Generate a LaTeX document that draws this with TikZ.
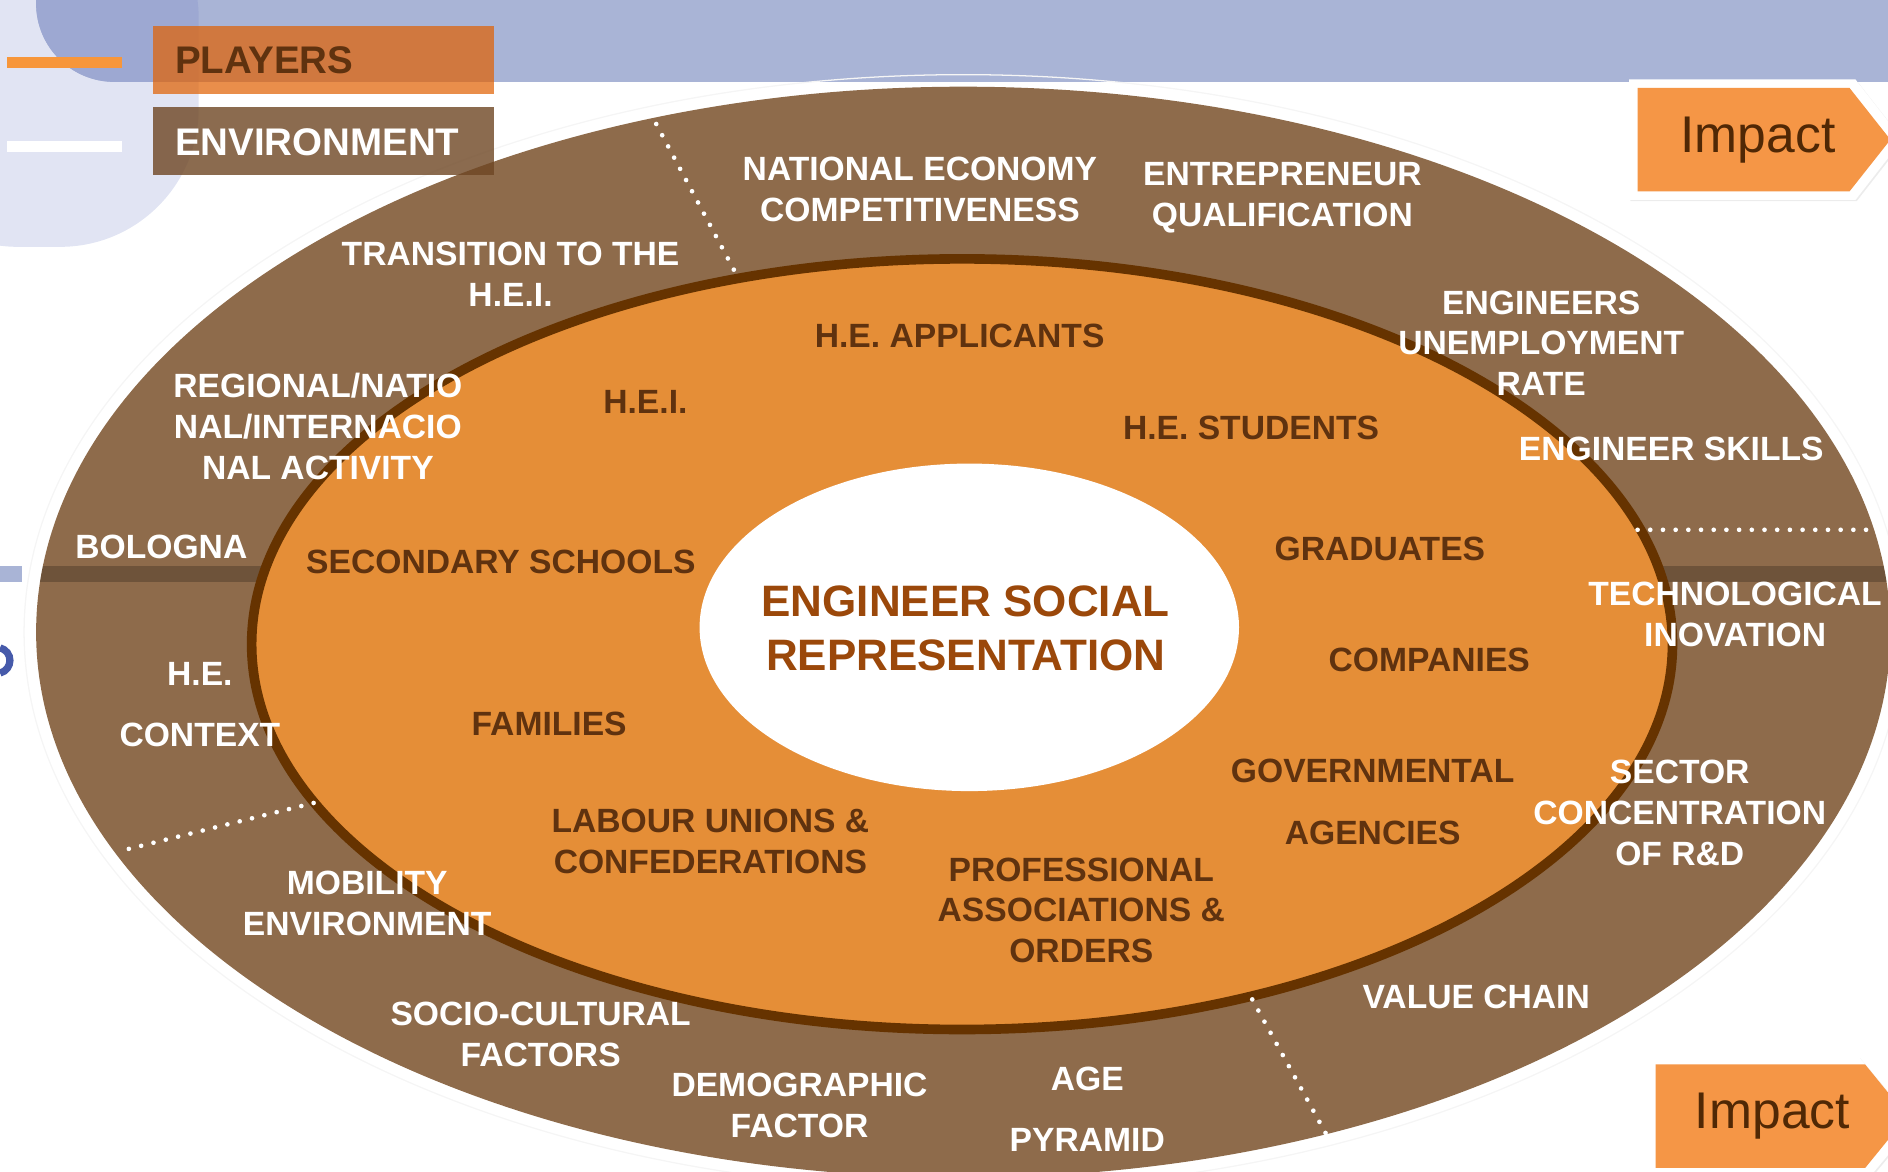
\documentclass[tikz,border=0pt]{standalone}
\usepackage{fontspec}
\setmainfont{Liberation Sans}
\usetikzlibrary{shadows}
\definecolor{bandblue}{RGB}{169,180,214}
\definecolor{paleblue}{RGB}{225,228,243}
\definecolor{deepblue}{RGB}{157,168,210}
\definecolor{markblue}{RGB}{70,90,170}
\definecolor{envbrown}{RGB}{142,107,75}
\definecolor{plorange}{RGB}{229,142,55}
\definecolor{rimbrown}{RGB}{102,51,0}
\definecolor{plbrown}{RGB}{95,50,15}
\definecolor{ttlbrown}{RGB}{155,72,10}
\definecolor{tagorange}{RGB}{245,150,70}
\definecolor{tagtext}{RGB}{80,40,5}
\definecolor{legorange}{RGB}{247,150,58}
\definecolor{keyorange}{RGB}{224,98,5}
\definecolor{keybrown}{RGB}{110,70,35}
\newcommand{\lblfont}{\fontsize{15.9}{19.3}\selectfont\bfseries}
\newcommand{\ttlfont}{\fontsize{20.8}{25.5}\selectfont\bfseries}
\newcommand{\legfont}{\fontsize{18.2}{22}\selectfont\bfseries}
\newcommand{\impfont}{\fontsize{24.4}{28}\selectfont}
\tikzset{
    envlbl/.style={text=white, font=\lblfont, align=center, inner sep=0pt},
    plylbl/.style={text=plbrown, font=\lblfont, align=center, inner sep=0pt},
    sepline/.style={white, line width=2.2pt, dash pattern=on 0pt off 6pt, line cap=round},
    tagrim/.style={fill=white, drop shadow={opacity=0.15, shadow xshift=0.6pt, shadow yshift=-0.6pt}},
    tagbody/.style={fill=tagorange},
    tagword/.style={text=tagtext, font=\impfont, inner sep=0pt}
}
\begin{document}
\begin{tikzpicture}[x=0.02cm, y=-0.02cm]
                \useasboundingbox (0,0) rectangle (1568,973);
                % background
                \fill[paleblue, rounded corners=2.3cm] (-100,-100) rectangle (165,205);
                \fill[bandblue, rounded corners=1.3cm] (30,-100) rectangle (1700,68);
                \begin{scope}
                    \clip[rounded corners=2.3cm] (-100,-100) rectangle (165,205);
                    \fill[deepblue, rounded corners=1.3cm] (30,-100) rectangle (1700,68);
                \end{scope}
                \fill[bandblue] (0,470) rectangle (18,483);
                \draw[markblue, line width=0.12cm] (0,538) .. controls (11,541) and (11,556) .. (0,559);
                % rings
                \draw[gray!8, line width=0.6pt] (800,525) ellipse [x radius=780, y radius=463];
                \fill[envbrown] (800,525) ellipse [x radius=770, y radius=453];
                \begin{scope}
                    \clip (800,525) ellipse [x radius=770, y radius=453];
                    \fill[black, opacity=0.22] (0,470) rectangle (1568,483);
                \end{scope}
                \draw[rimbrown, fill=plorange, line width=0.16cm] (799,535) ellipse [x radius=590, y radius=320];
                \fill[white] (805,521) ellipse [x radius=224, y radius=136];
                \node[text=ttlbrown, font=\ttlfont, align=center, inner sep=0pt] (title) at (802,522) {ENGINEER SOCIAL\\REPRESENTATION};
                % legend
                \draw[legorange, line width=0.18cm] (6,52) -- (101,52);
                \draw[white, line width=0.18cm] (6,122) -- (101,122);
                \fill[keyorange, opacity=0.72] (127,22) rectangle (410,78);
                \fill[keybrown, opacity=0.8] (127,89) rectangle (410,145);
                \node[text=plbrown, font=\legfont, anchor=west, inner sep=0pt] (players) at (145,50) {PLAYERS};
                \node[text=white, font=\legfont, anchor=west, inner sep=0pt] (environment) at (145,118) {ENVIRONMENT};
                % separators
                \draw[sepline] (545,103) -- (610,225);
                \draw[sepline] (107,705) -- (268,665);
                \draw[sepline] (1040,830) -- (1102,943);
                \draw[sepline] (1360,440) -- (1555,440);
                % environment labels
                \foreach \x/\y/\nm/\txt in {424/228/trans/{TRANSITION TO THE\\H.E.I.},
                    764/157/econ/{NATIONAL ECONOMY\\COMPETITIVENESS},
                    1065/164/entre/{ENTREPRENEUR\\QUALIFICATION},
                    1280/285/unemp/{ENGINEERS\\UNEMPLOYMENT\\RATE},
                    1388/373/skills/{ENGINEER SKILLS},
                    264/354/region/{REGIONAL/NATIO\\NAL/INTERNACIO\\NAL ACTIVITY},
                    134/454/bologna/{BOLOGNA},
                    166/585/context/{H.E.\\[0.34cm]CONTEXT},
                    1441/510/techno/{TECHNOLOGICAL\\INOVATION},
                    1395/675/sector/{SECTOR\\CONCENTRATION\\OF R\&D},
                    1226/828/value/{VALUE CHAIN},
                    903/921/age/{AGE\\[0.34cm]PYRAMID},
                    664/918/demo/{DEMOGRAPHIC\\FACTOR},
                    449/859/socio/{SOCIO-CULTURAL\\FACTORS},
                    305/750/mobil/{MOBILITY\\ENVIRONMENT}}
                {
                    \node[envlbl] (\nm) at (\x,\y) {\txt};
                }
                % player labels
                \foreach \x/\y/\nm/\txt in {797/279/appl/{H.E. APPLICANTS},
                    536/334/hei/{H.E.I.},
                    1039/355/stud/{H.E. STUDENTS},
                    416/467/school/{SECONDARY SCHOOLS},
                    1146/456/grad/{GRADUATES},
                    1187/548/comp/{COMPANIES},
                    456/601/fam/{FAMILIES},
                    1140/666/gov/{GOVERNMENTAL\\[0.34cm]AGENCIES},
                    590/699/labour/{LABOUR UNIONS \&\\CONFEDERATIONS},
                    898/756/prof/{PROFESSIONAL\\ASSOCIATIONS \&\\ORDERS}}
                {
                    \node[plylbl] (\nm) at (\x,\y) {\txt};
                }
                % impact tags
                \fill[tagrim] (1353,66) -- (1541,66) -- (1580,116) -- (1541,166) -- (1353,166) -- cycle;
                \fill[tagbody] (1360,73) -- (1536,73) -- (1570,116) -- (1536,159) -- (1360,159) -- cycle;
                \node[tagword] (impacttop) at (1460,116) {Impact};
                \fill[tagrim] (1368,878) -- (1544,878) -- (1590,933) -- (1544,988) -- (1368,988) -- cycle;
                \fill[tagbody] (1375,884) -- (1549,884) -- (1584,927) -- (1549,970) -- (1375,970) -- cycle;
                \node[tagword] (impactbot) at (1472,927) {Impact};
            \end{tikzpicture}
\end{document}
